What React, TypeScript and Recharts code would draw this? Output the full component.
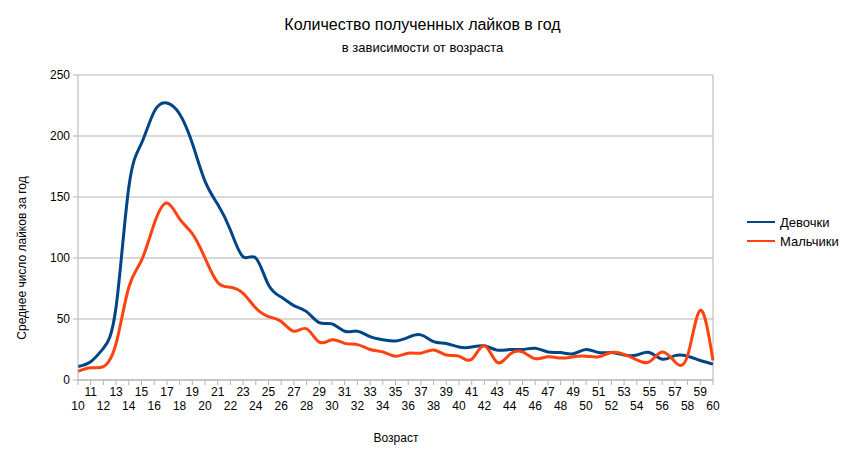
import React from 'react';
import { LineChart, Line, XAxis, YAxis, CartesianGrid, ReferenceLine } from 'recharts';

const FONT = '"Liberation Sans", Arial, sans-serif';

// age categories
const ages = [
  10, 11, 12, 13, 14, 15, 16, 17, 18, 19, 20, 21, 22, 23, 24, 25, 26, 27, 28, 29, 30,
  31, 32, 33, 34, 35, 36, 37, 38, 39, 40, 41, 42, 43, 44, 45, 46, 47, 48, 49, 50,
  51, 52, 53, 54, 55, 56, 57, 58, 59, 60,
];

const girls = [
  11, 15, 26, 60, 158, 194, 220, 227, 218, 194, 163, 144, 123, 101, 100, 78, 68, 61, 56, 47, 46,
  40, 40, 35.5, 33, 32, 35, 37, 31.5, 30, 27, 27, 28, 24.5, 25, 25, 26, 23, 22.5, 21.5, 25,
  22.5, 22.5, 20.5, 20.5, 22.5, 17, 20, 19.5, 16, 13,
];

const boys = [
  7, 10, 11, 30, 76, 98, 128, 145, 132, 120, 100, 80, 76, 71, 59, 52, 48, 40, 42, 31, 33,
  30, 29, 25, 23, 19.5, 22, 22, 24.5, 20.5, 19.5, 17, 28, 14.5, 21, 23, 17.5, 19, 18, 19, 19.5,
  19, 22.5, 21, 16.5, 15, 23, 15, 20, 57, 16,
];

const yTicks = [0, 50, 100, 150, 200, 250];

const seriesNames = ['Девочки', 'Мальчики'];
const COLORS = ['#004586', '#ff420e'];

const data = ages.map((age, i) => ({ age, girls: girls[i], boys: boys[i] }));

const AgeTick = (props: any) => {
  const { x, y, payload } = props;
  const odd = payload.value % 2 === 1;
  return (
    <text x={x} y={y + (odd ? 9 : 23)} textAnchor="middle" fontSize={12} fill="#000" fontFamily={FONT}>
      {payload.value}
    </text>
  );
};

export default function App() {
  return (
    <div style={{ position: 'absolute', left: 0, top: 0, width: 841, height: 466, background: '#fff', fontFamily: FONT }}>
      <div style={{ position: 'absolute', left: 0, width: 841, top: 15, lineHeight: '20px', fontSize: 16, textAlign: 'center', paddingLeft: 2 }}>
        Количество полученных лайков в год
      </div>
      <div style={{ position: 'absolute', left: 0, width: 841, top: 39, lineHeight: '18px', fontSize: 13, textAlign: 'center', paddingLeft: 2 }}>
        в зависимости от возраста
      </div>
      <div style={{ position: 'absolute', left: 346, width: 100, top: 430, lineHeight: '16px', fontSize: 12, textAlign: 'center' }}>
        Возраст
      </div>
      <div
        style={{
          position: 'absolute', left: 22 - 100, top: 258 - 8, width: 200, lineHeight: '16px', fontSize: 12,
          textAlign: 'center', transform: 'rotate(-90deg)',
        }}
      >
        Среднее число лайков за год
      </div>
      <svg style={{ position: 'absolute', left: 745, top: 212 }} width={100} height={40}>
        {seriesNames.map((name, i) => (
          <g key={name}>
            <line x1={2} x2={30} y1={10 + i * 19} y2={10 + i * 19} stroke={COLORS[i]} strokeWidth={2} />
            <text x={35} y={15 + i * 19} fontSize={13} fill="#000" fontFamily={FONT}>{name}</text>
          </g>
        ))}
      </svg>
      <LineChart width={841} height={466} data={data} margin={{ top: 75, right: 128, bottom: 16, left: 10 }}>
        <CartesianGrid vertical={false} stroke="#b3b3b3" />
        <XAxis
          dataKey="age"
          type="number"
          domain={[10, 60]}
          ticks={ages}
          interval={0}
          height={70}
          stroke="#b3b3b3"
          tickSize={5}
          tick={<AgeTick />}
        />
        <YAxis
          width={68}
          domain={[0, 250]}
          ticks={yTicks}
          stroke="#b3b3b3"
          tickSize={5}
          tickMargin={3}
          tick={{ fill: '#000', fontSize: 12, fontFamily: FONT }}
        />
        <ReferenceLine x={60} stroke="#b3b3b3" />
        <Line type="natural" dataKey="girls" name={seriesNames[0]} stroke={COLORS[0]} strokeWidth={3} dot={false} isAnimationActive={false} />
        <Line type="natural" dataKey="boys" name={seriesNames[1]} stroke={COLORS[1]} strokeWidth={3} dot={false} isAnimationActive={false} />
      </LineChart>
    </div>
  );
}
